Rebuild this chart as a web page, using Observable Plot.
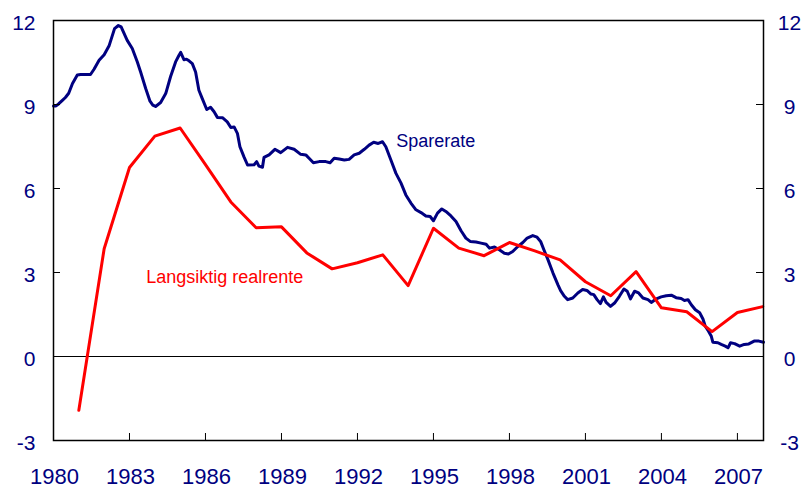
<!DOCTYPE html>
<html>
<head>
<meta charset="utf-8">
<script src="https://cdn.jsdelivr.net/npm/d3@7"></script>
<script src="https://cdn.jsdelivr.net/npm/@observablehq/plot@0.6"></script>
<style>
  html, body { margin: 0; padding: 0; background: #ffffff; }
  #chart { width: 810px; height: 492px; }
</style>
</head>
<body>
<div id="chart"></div>
<script>
// Sparerate (household saving rate)
const spareYears = [
  1980.00, 1980.10, 1980.20, 1980.35, 1980.47, 1980.60, 1980.75, 1980.94, 1981.07, 1981.46,
  1981.60, 1981.80, 1982.00, 1982.20, 1982.41, 1982.56, 1982.67, 1982.91, 1983.11, 1983.31,
  1983.44, 1983.64, 1983.81, 1983.92, 1984.03, 1984.23, 1984.43, 1984.62, 1984.82, 1984.95,
  1985.02, 1985.15, 1985.25, 1985.35, 1985.48, 1985.61, 1985.74, 1985.87, 1986.05, 1986.20,
  1986.34, 1986.47, 1986.67, 1986.86, 1987.00, 1987.13, 1987.26, 1987.36, 1987.52, 1987.66,
  1987.92, 1988.02, 1988.11, 1988.25, 1988.31, 1988.51, 1988.74, 1988.97, 1989.24, 1989.50,
  1989.76, 1989.96, 1990.09, 1990.26, 1990.49, 1990.75, 1990.92, 1991.08, 1991.28, 1991.48,
  1991.67, 1991.87, 1992.07, 1992.27, 1992.46, 1992.64, 1992.82, 1992.99, 1993.12, 1993.32,
  1993.52, 1993.72, 1993.91, 1994.11, 1994.31, 1994.51, 1994.70, 1994.87, 1995.00, 1995.16,
  1995.33, 1995.49, 1995.69, 1995.89, 1996.09, 1996.28, 1996.45, 1996.68, 1996.88, 1997.08,
  1997.21, 1997.41, 1997.60, 1997.80, 1997.96, 1998.13, 1998.33, 1998.53, 1998.70, 1998.92,
  1999.09, 1999.23, 1999.36, 1999.52, 1999.72, 1999.92, 2000.02, 2000.17, 2000.30, 2000.50,
  2000.70, 2000.89, 2001.06, 2001.22, 2001.33, 2001.46, 2001.59, 2001.71, 2001.82, 2001.99,
  2002.15, 2002.34, 2002.52, 2002.65, 2002.78, 2002.94, 2003.10, 2003.27, 2003.47, 2003.60,
  2003.80, 2003.99, 2004.19, 2004.39, 2004.58, 2004.78, 2004.91, 2005.05, 2005.18, 2005.34,
  2005.51, 2005.64, 2005.73, 2005.86, 2005.97, 2006.03, 2006.23, 2006.36, 2006.52, 2006.63,
  2006.73, 2006.89, 2007.09, 2007.27, 2007.45, 2007.66, 2007.85, 2008.03
];
const spareValues = [
  8.95, 8.95, 9.02, 9.15, 9.25, 9.40, 9.75, 10.05, 10.07, 10.07,
  10.26, 10.58, 10.78, 11.11, 11.71, 11.82, 11.77, 11.29, 11.00, 10.52,
  10.16, 9.57, 9.12, 8.98, 8.93, 9.07, 9.39, 9.99, 10.52, 10.75,
  10.86, 10.60, 10.62, 10.56, 10.46, 10.16, 9.51, 9.22, 8.82, 8.90,
  8.74, 8.54, 8.53, 8.38, 8.18, 8.20, 7.97, 7.49, 7.13, 6.84,
  6.85, 6.96, 6.80, 6.76, 7.11, 7.20, 7.40, 7.28, 7.47, 7.40,
  7.22, 7.20, 7.08, 6.92, 6.96, 6.96, 6.92, 7.08, 7.05, 7.02,
  7.04, 7.20, 7.26, 7.40, 7.55, 7.65, 7.61, 7.67, 7.49, 7.02,
  6.54, 6.19, 5.77, 5.48, 5.24, 5.14, 5.02, 5.00, 4.85, 5.12,
  5.27, 5.18, 5.02, 4.82, 4.49, 4.23, 4.11, 4.09, 4.05, 4.01,
  3.87, 3.91, 3.81, 3.69, 3.66, 3.75, 3.93, 4.07, 4.23, 4.32,
  4.26, 4.11, 3.81, 3.46, 2.98, 2.55, 2.35, 2.15, 2.03, 2.09,
  2.27, 2.39, 2.36, 2.23, 2.21, 2.03, 1.89, 2.13, 1.93, 1.79,
  1.91, 2.15, 2.41, 2.33, 2.06, 2.33, 2.27, 2.09, 2.03, 1.93,
  2.06, 2.13, 2.17, 2.19, 2.10, 2.07, 2.00, 2.03, 1.85, 1.67,
  1.56, 1.34, 1.08, 0.90, 0.72, 0.51, 0.49, 0.43, 0.37, 0.31,
  0.49, 0.46, 0.37, 0.43, 0.45, 0.55, 0.55, 0.51
];

// Langsiktig realrente (long-term real interest rate), annual
const renteYears = [
  1981, 1982, 1983, 1984, 1985, 1986, 1987, 1988, 1989, 1990,
  1991, 1992, 1993, 1994, 1995, 1996, 1997, 1998, 1999, 2000,
  2001, 2002, 2003, 2004, 2005, 2006, 2007, 2008
];
const renteValues = [
  -1.92, 3.85, 6.75, 7.87, 8.16, 6.85, 5.52, 4.60, 4.63, 3.70,
  3.13, 3.35, 3.63, 2.53, 4.58, 3.87, 3.60, 4.07, 3.77, 3.45,
  2.67, 2.17, 3.03, 1.74, 1.60, 0.89, 1.57, 1.78
];

const yTicks = [-3, 0, 3, 6, 9, 12];
const xTicks = [1980, 1983, 1986, 1989, 1992, 1995, 1998, 2001, 2004, 2007];

const labelTexts = ["Sparerate", "Langsiktig realrente"];
const labelYears = [1993.53, 1983.66];
const labelValues = [7.70, 2.83];
const labelColors = ["#000080", "#ff0000"];

const spare = spareYears.map((x, i) => ({x, y: spareValues[i]}));
const rente = renteYears.map((x, i) => ({x, y: renteValues[i]}));
const labels = labelTexts.map((t, i) => ({text: t, x: labelYears[i], y: labelValues[i], c: labelColors[i]}));

const navy = "#000080";
const W = 810, H = 492, ML = 53, MR = 47, MT = 20, MB = 52;
const innerW = W - ML - MR, innerH = H - MT - MB, TICK = 7;

const chart = Plot.plot({
  width: W,
  height: H,
  marginLeft: ML,
  marginRight: MR,
  marginTop: MT,
  marginBottom: MB,
  style: {fontFamily: "'Liberation Sans', Arial, sans-serif", background: "#ffffff", overflow: "visible"},
  x: {domain: [1980, 2008.03], axis: null},
  y: {domain: [-3, 12], axis: null},
  marks: [
    Plot.ruleY([0], {stroke: "#000000", strokeWidth: 1}),
    Plot.line(spare, {x: "x", y: "y", stroke: navy, strokeWidth: 3, strokeLinejoin: "round"}),
    Plot.line(rente, {x: "x", y: "y", stroke: "#ff0000", strokeWidth: 3, strokeLinejoin: "round"}),
    Plot.frame({stroke: "#000000", strokeWidth: 1.5}),
    // inward ticks
    Plot.tickY(yTicks, {y: d => d, stroke: "#000000", strokeWidth: 1, insetRight: innerW - TICK}),
    Plot.tickY(yTicks, {y: d => d, stroke: "#000000", strokeWidth: 1, insetLeft: innerW - TICK}),
    Plot.tickX(xTicks, {x: d => d, stroke: "#000000", strokeWidth: 1, insetTop: innerH - TICK}),
    // tick labels
    Plot.text(yTicks, {y: d => d, text: d => String(d), frameAnchor: "left", textAnchor: "end", dx: -18, dy: 3, fontSize: 21, fill: navy}),
    Plot.text(yTicks, {y: d => d, text: d => String(d), frameAnchor: "right", textAnchor: "middle", dx: 26, dy: 3, fontSize: 21, fill: navy}),
    Plot.text(xTicks, {x: d => d, text: d => String(d), frameAnchor: "bottom", lineAnchor: "top", dx: 1, dy: 28, fontSize: 22, fill: navy}),
    // series labels
    Plot.text(labels, {x: "x", y: "y", text: "text", fill: "c", textAnchor: "start", lineAnchor: "middle", fontSize: 18})
  ]
});
document.getElementById("chart").appendChild(chart);
</script>
</body>
</html>
